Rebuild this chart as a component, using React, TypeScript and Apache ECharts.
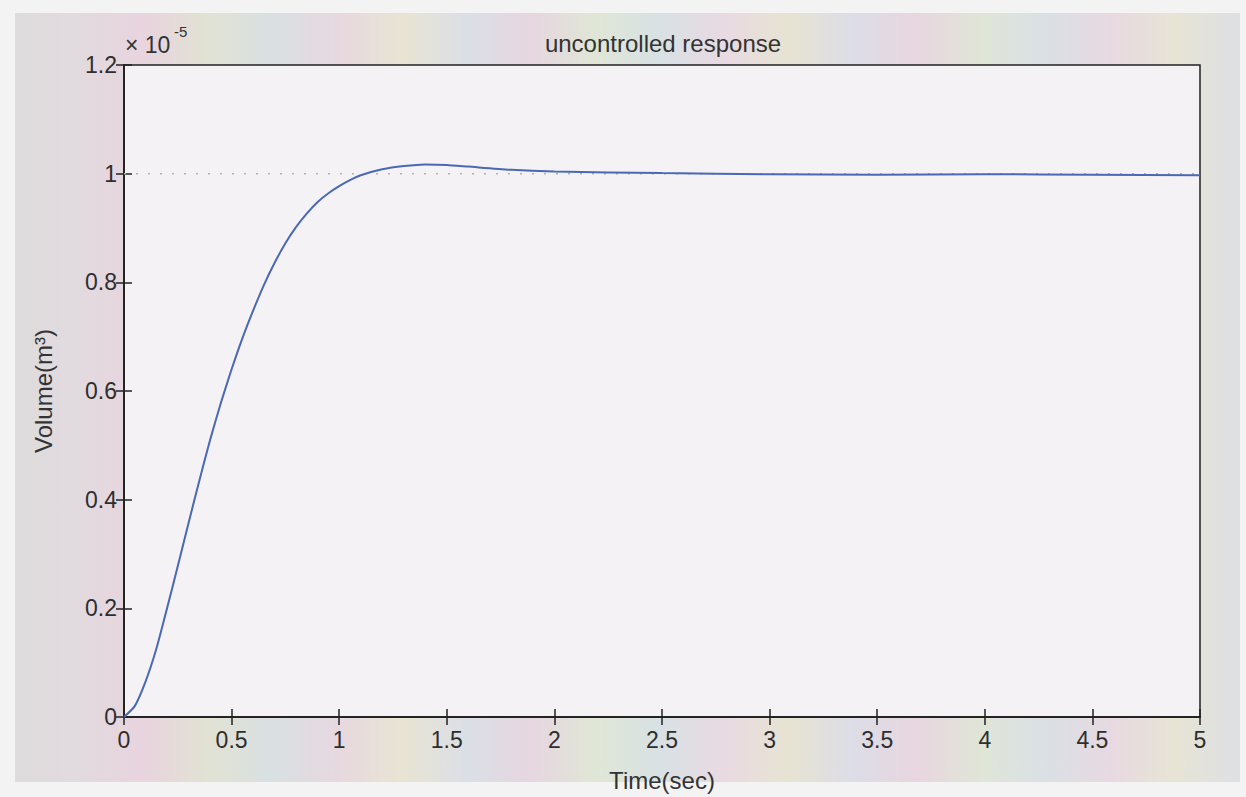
import React, { useEffect, useRef } from "react";
import * as echarts from "echarts";

// Time (sec)
const timeSec = [
  0, 0.05, 0.1, 0.15, 0.2, 0.25, 0.3, 0.35, 0.4, 0.45, 0.5, 0.55, 0.6, 0.65, 0.7, 0.75,
  0.8, 0.85, 0.9, 0.95, 1.0, 1.05, 1.1, 1.2, 1.3, 1.4, 1.5, 1.6, 1.8, 2.0, 2.5, 3.0,
  3.5, 4.0, 4.5, 5.0,
];
// Volume (x 10^-5 m^3)
const volume = [
  0, 0.02, 0.065, 0.125, 0.2, 0.278, 0.357, 0.435, 0.51, 0.578, 0.64, 0.697, 0.748, 0.795, 0.836, 0.872,
  0.902, 0.927, 0.948, 0.964, 0.977, 0.988, 0.997, 1.008, 1.014, 1.017, 1.016, 1.013, 1.007, 1.004, 1.001, 0.999,
  0.998, 0.999, 0.998, 0.997,
];
const referenceLevel = 1;
const xTickLabels = ["0", "0.5", "1", "1.5", "2", "2.5", "3", "3.5", "4", "4.5", "5"];
const yTickLabels = ["0", "0.2", "0.4", "0.6", "0.8", "1", "1.2"];
const titleText = "uncontrolled response";
const xName = "Time(sec)";
const yName = "Volume(m³)";

const stripeColors = [
  "#dedcdd", "#e2dadf", "#e8d4de", "#e1e2d4", "#d9e0e2", "#e7d8e0", "#e8e4d3", "#dbdfe6",
  "#e6d6e0", "#e0e6d6", "#d8e1e4", "#e9dae2", "#e6e3d2", "#dcdde7", "#e8d6df", "#dfe5d7",
  "#dae0e5", "#e8d9e1", "#e7e4d5", "#dde0e4",
];

export default function App() {
  const ref = useRef<HTMLDivElement>(null);
  useEffect(() => {
    if (!ref.current) return;
    const chart = echarts.init(ref.current, undefined, { renderer: "svg" });
    const curve = timeSec.map((t, i) => [t, volume[i]]);
    const refLine = [
      [0, referenceLevel],
      [5, referenceLevel],
    ];
    const tickFont = { fontFamily: "Liberation Sans", fontSize: 23, color: "#2e2e2e" };
    const axisLine = { show: true, lineStyle: { color: "#222", width: 1.5 } };
    const axisTick = { show: true, inside: true, length: 8, lineStyle: { color: "#222", width: 1.5 } };
    const stops = stripeColors.map((c, i) => ({ offset: i / (stripeColors.length - 1), color: c }));
    chart.setOption({
      animation: false,
      backgroundColor: "#f4f3f4",
      graphic: [
        {
          type: "rect",
          z: -10,
          shape: { x: 15, y: 13, width: 1225, height: 769 },
          style: {
            fill: new echarts.graphic.LinearGradient(0, 0, 1, 0, stops),
          },
        },
        {
          type: "text",
          x: 663,
          y: 43,
          style: {
            text: titleText,
            fontFamily: "Liberation Sans",
            fontSize: 24,
            fill: "#333",
            textAlign: "center",
            textVerticalAlign: "middle",
          },
        },
        {
          type: "text",
          x: 125,
          y: 45,
          style: {
            text: "× 10",
            fontFamily: "Liberation Sans",
            fontSize: 23,
            fill: "#333",
            textAlign: "left",
            textVerticalAlign: "middle",
          },
        },
        {
          type: "text",
          x: 174,
          y: 31,
          style: {
            text: "-5",
            fontFamily: "Liberation Sans",
            fontSize: 15,
            fill: "#333",
            textAlign: "left",
            textVerticalAlign: "middle",
          },
        },
      ],
      grid: {
        left: 124,
        top: 65,
        width: 1076,
        height: 656,
        show: true,
        backgroundColor: "#f4f2f4",
        borderColor: "#222",
        borderWidth: 1.5,
      },
      xAxis: [
        {
          type: "value",
          min: 0,
          max: 5,
          interval: 0.5,
          position: "bottom",
          axisLine,
          axisTick,
          splitLine: { show: false },
          axisLabel: {
            ...tickFont,
            margin: 11,
            formatter: (v: number) => xTickLabels[Math.round(v / 0.5)] ?? "",
          },
          name: xName,
          nameLocation: "middle",
          nameGap: 51,
          nameTextStyle: { fontFamily: "Liberation Sans", fontSize: 24, color: "#333" },
        },
        {
          type: "value",
          min: 0,
          max: 5,
          interval: 0.5,
          position: "top",
          axisLine,
          axisTick,
          splitLine: { show: false },
          axisLabel: { show: false },
        },
      ],
      yAxis: [
        {
          type: "value",
          min: 0,
          max: 1.2,
          interval: 0.2,
          position: "left",
          axisLine,
          axisTick,
          splitLine: { show: false },
          axisLabel: {
            ...tickFont,
            margin: 7,
            formatter: (v: number) => yTickLabels[Math.round(v / 0.2)] ?? "",
          },
          name: yName,
          nameLocation: "middle",
          nameGap: 69,
          nameRotate: 90,
          nameTextStyle: { fontFamily: "Liberation Sans", fontSize: 24, color: "#333" },
        },
        {
          type: "value",
          min: 0,
          max: 1.2,
          interval: 0.2,
          position: "right",
          axisLine,
          axisTick,
          splitLine: { show: false },
          axisLabel: { show: false },
        },
      ],
      series: [
        {
          type: "line",
          data: refLine,
          showSymbol: false,
          lineStyle: { color: "#b0b0b0", width: 1.5, type: [2, 10] },
          z: 1,
        },
        {
          type: "line",
          data: curve,
          smooth: 0.2,
          showSymbol: false,
          lineStyle: { color: "#4a68b4", width: 2 },
          z: 2,
        },
      ],
    });
    return () => chart.dispose();
  }, []);
  return (
    <div
      ref={ref}
      style={{ position: "fixed", left: 0, top: 0, width: 1246, height: 797 }}
    />
  );
}
